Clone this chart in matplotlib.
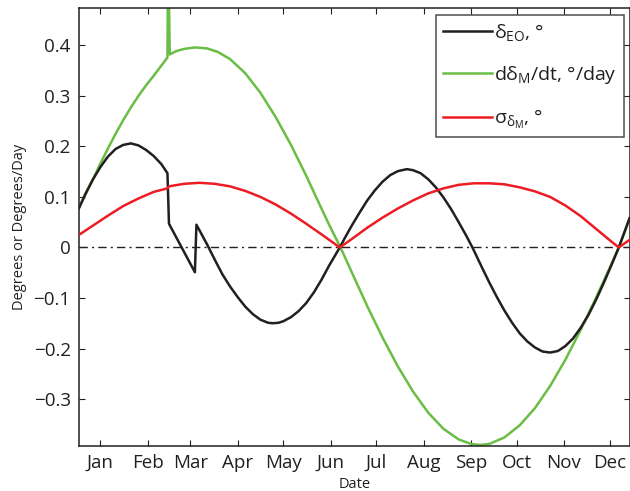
import numpy as np
import matplotlib
matplotlib.use("Agg")
import matplotlib.pyplot as plt
from matplotlib.ticker import FuncFormatter

plt.rcParams['font.family'] = ['Open Sans', 'DejaVu Sans']
plt.rcParams['mathtext.default'] = 'regular'

#Month ticks (day of year, mid month)
month_days = [15, 46, 74, 105, 135, 166, 196, 227, 258, 288, 319, 349]
month_names = ['Jan', 'Feb', 'Mar', 'Apr', 'May', 'Jun',
               'Jul', 'Aug', 'Sep', 'Oct', 'Nov', 'Dec']
y_ticks = [-0.3, -0.2, -0.1, 0, 0.1, 0.2, 0.3, 0.4]

#delta_EO (black)
eo_days = [1, 5, 10, 15, 20, 25, 30, 35, 40, 45, 50, 55, 59, 60, 77, 78, 80, 85,
           90, 95, 100, 105, 110, 115, 120, 125, 128, 132, 135, 140, 145, 150,
           155, 160, 165, 172, 175, 180, 185, 190, 195, 200, 205, 210, 216, 220,
           225, 230, 235, 240, 245, 250, 255, 259, 265, 270, 275, 280, 285, 290,
           295, 300, 305, 310, 315, 320, 325, 330, 335, 340, 345, 350, 355, 362]
eo_vals = [0.078, 0.104, 0.134, 0.159, 0.180, 0.195, 0.203, 0.206, 0.202, 0.193,
           0.181, 0.165, 0.147, 0.047, -0.049, 0.045, 0.034, 0.006,
           -0.024, -0.053, -0.077, -0.098, -0.117, -0.132, -0.143, -0.149, -0.150,
           -0.149, -0.146, -0.138, -0.126, -0.110,
           -0.089, -0.064, -0.036, 0.000, 0.017, 0.044, 0.069, 0.093, 0.113, 0.130,
           0.143, 0.151, 0.155, 0.153,
           0.147, 0.135, 0.119, 0.099, 0.076, 0.050, 0.023, 0.000, -0.038, -0.069,
           -0.098, -0.125, -0.149, -0.170,
           -0.186, -0.198, -0.206, -0.208, -0.205, -0.195, -0.180, -0.159, -0.134,
           -0.104, -0.071, -0.036, 0.000, 0.058]

#d delta_M / dt (green)
rate_days = [1, 5, 10, 15, 20, 25, 30, 35, 40, 45, 50, 55, 59, 59.5, 60.5, 65, 70,
             77, 85, 92, 100, 110, 120, 130, 140, 150, 158, 165, 172.5, 180, 190,
             200, 210, 220, 230, 240, 250, 258, 264, 270, 280, 290, 300, 310, 320,
             330, 340, 348, 355, 362]
rate_vals = [0.078, 0.106, 0.134, 0.166, 0.196, 0.225, 0.252, 0.277, 0.300, 0.321,
             0.340, 0.360, 0.376, 0.60, 0.382, 0.389, 0.393,
             0.396, 0.394, 0.387, 0.373, 0.345, 0.306, 0.258, 0.203, 0.142, 0.090,
             0.045, 0.000, -0.050, -0.116,
             -0.178, -0.235, -0.285, -0.327, -0.359, -0.380, -0.389, -0.391, -0.389,
             -0.376, -0.352, -0.318, -0.274, -0.222,
             -0.163, -0.100, -0.047, 0.000, 0.056]

#sigma (red)
sig_days = [1, 10, 20, 30, 40, 50, 59, 60, 70, 80, 90, 100, 110, 120, 130, 140,
            150, 160, 172, 180, 190, 200, 210, 220, 230, 240, 250, 260, 270, 280,
            290, 300, 310, 320, 330, 340, 350, 355, 362]
sig_vals = [0.025, 0.043, 0.063, 0.082, 0.097, 0.110, 0.117, 0.121, 0.126, 0.128,
            0.126, 0.121, 0.112, 0.100, 0.085, 0.067,
            0.047, 0.026, 0.000, 0.017, 0.039, 0.059, 0.077, 0.093, 0.107, 0.117,
            0.124, 0.127, 0.127, 0.125,
            0.119, 0.111, 0.100, 0.083, 0.062, 0.037, 0.012, 0.000, 0.015]

black = '#231f20'
green = '#6abd45'
red = '#ed1c24'

fig = plt.figure(figsize=(6.30, 4.91), dpi=100)
ax = fig.add_axes([79 / 630, 45.5 / 491, 550.5 / 630, 437.5 / 491])

ax.axhline(0, color=black, lw=1.0, ls=(0, (6, 3, 1.5, 3)), zorder=1)
l_rate, = ax.plot(rate_days, rate_vals, color=green, lw=1.8, zorder=2)
l_eo, = ax.plot(eo_days, eo_vals, color=black, lw=1.8, zorder=3)
l_sig, = ax.plot(sig_days, sig_vals, color=red, lw=1.8, zorder=4)

ax.set_xlim(1, 362)
ax.set_ylim(-0.392, 0.474)
ax.set_xticks(month_days)
ax.set_xticklabels(month_names)
ax.set_yticks(y_ticks)
ax.yaxis.set_major_formatter(FuncFormatter(
    lambda v, p: '0' if abs(v) < 1e-9 else ('%.1f' % v).replace('-', '\u2212')))

ax.tick_params(direction='in', top=True, right=True, length=4, width=0.8,
               labelsize=13.5, colors=black, pad=6)
for s in ax.spines.values():
    s.set_linewidth(1.1)
    s.set_color(black)

ax.set_xlabel('Date', fontsize=10.5, color=black, labelpad=4)
ax.set_ylabel('Degrees or Degrees/Day', fontsize=10.5, color=black, labelpad=5)

leg = ax.legend([l_eo, l_rate, l_sig],
                [r'$\delta_{EO}$, °', r'd$\delta_M$/dt, °/day', r'$\sigma_{\delta_M}$, °'],
                loc='upper right', bbox_to_anchor=(0.990, 0.984), borderaxespad=0,
                fontsize=14, frameon=True, fancybox=False, handlelength=2.5,
                handletextpad=0.15, labelspacing=1.1, borderpad=0.35)
leg.get_frame().set_edgecolor(black)
leg.get_frame().set_linewidth(1.1)
for t in leg.get_texts():
    t.set_color(black)

fig.savefig('out.png', dpi=100)
